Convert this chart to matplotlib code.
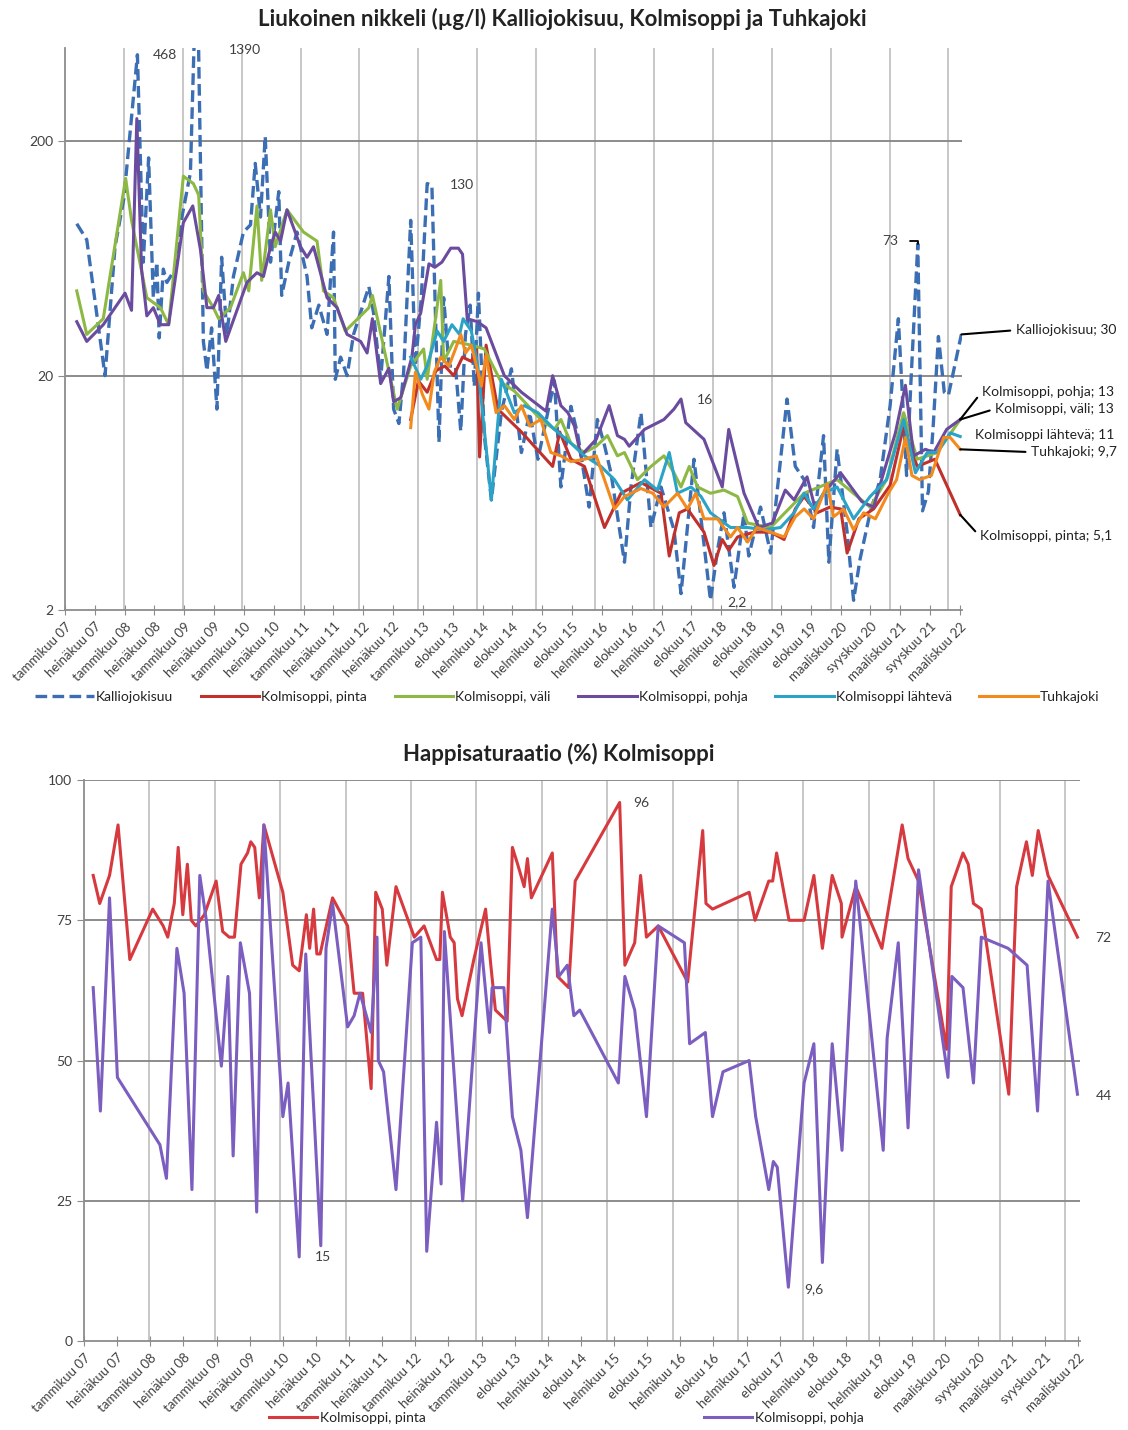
import matplotlib
matplotlib.use("Agg")
import matplotlib.pyplot as plt
import numpy as np

plt.rcParams['font.family'] = ['Lato', 'DejaVu Sans']

# x axis: labels every 185 days from 1.1.2007 (Excel date axis)
tick_labels = ['tammikuu 07', 'heinäkuu 07', 'tammikuu 08', 'heinäkuu 08', 'tammikuu 09',
               'heinäkuu 09', 'tammikuu 10', 'heinäkuu 10', 'tammikuu 11', 'heinäkuu 11',
               'tammikuu 12', 'heinäkuu 12', 'tammikuu 13', 'elokuu 13', 'helmikuu 14',
               'elokuu 14', 'helmikuu 15', 'elokuu 15', 'helmikuu 16', 'elokuu 16',
               'helmikuu 17', 'elokuu 17', 'helmikuu 18', 'elokuu 18', 'helmikuu 19',
               'elokuu 19', 'maaliskuu 20', 'syyskuu 20', 'maaliskuu 21', 'syyskuu 21',
               'maaliskuu 22']
tick_years = 2007 + 185 * np.arange(len(tick_labels)) / 365.25

# ---- nickel (ug/l), x = decimal year ----
kal_x = [2007.20, 2007.37, 2007.68, 2007.85, 2008.00, 2008.23, 2008.33, 2008.42, 2008.50, 2008.56,
         2008.60, 2008.67, 2008.73, 2008.87, 2008.96, 2009.13, 2009.24, 2009.35, 2009.41, 2009.49,
         2009.58, 2009.66, 2009.75, 2009.86, 2010.03, 2010.15, 2010.23, 2010.32, 2010.40, 2010.49,
         2010.63, 2010.68, 2010.80, 2010.94, 2011.11, 2011.19, 2011.31, 2011.45, 2011.56, 2011.59,
         2011.68, 2011.79, 2011.90, 2012.16, 2012.24, 2012.36, 2012.50, 2012.58, 2012.67, 2012.75,
         2012.87, 2012.95, 2013.05, 2013.15, 2013.23, 2013.35, 2013.43, 2013.52, 2013.63, 2013.72,
         2013.80, 2013.88, 2013.95, 2014.02, 2014.12, 2014.24, 2014.41, 2014.58, 2014.75, 2014.89,
         2015.03, 2015.31, 2015.42, 2015.59, 2015.71, 2015.90, 2016.04, 2016.16, 2016.27, 2016.50,
         2016.61, 2016.78, 2016.95, 2017.12, 2017.34, 2017.46, 2017.68, 2017.80, 2017.96, 2018.08,
         2018.19, 2018.36, 2018.53, 2018.61, 2018.81, 2018.98, 2019.26, 2019.40, 2019.55, 2019.71,
         2019.88, 2019.97, 2020.11, 2020.28, 2020.39, 2020.50, 2020.67, 2020.84, 2021.01, 2021.15,
         2021.29, 2021.36, 2021.48, 2021.56, 2021.66, 2021.74, 2021.83, 2021.93, 2022.00, 2022.22]
kal_y = [89, 76, 20, 71, 114, 468, 61, 170, 43, 61,
         29, 57, 50, 57, 88, 147, 1390, 28, 21, 32,
         14.4, 64, 30, 53, 82, 88, 161, 95, 210, 61,
         122, 44, 61, 82, 53, 32, 40, 30, 82, 19.3,
         24, 20, 30, 48, 37, 19.3, 53, 14.4, 12.5, 20.7,
         92, 22, 43, 132, 130, 10.4, 43, 22, 22, 11.6,
         30, 40, 18, 45, 11.1, 5.9, 14.0, 21.4, 9.4, 13.9,
         8.8, 19.0, 6.7, 14.8, 11.1, 5.5, 13.0, 10.1, 7.7, 3.2,
         6.7, 13.9, 4.5, 6.7, 4.4, 2.35, 8.8, 4.9, 2.2, 3.6,
         5.2, 2.5, 5.2, 3.4, 5.5, 3.5, 15.9, 8.2, 7.2, 4.5,
         11.1, 3.2, 9.7, 4.3, 2.2, 3.3, 5.2, 7.2, 14.9, 35,
         7.5, 18, 73, 5.3, 6.4, 12, 29.4, 17, 16.5, 30]

pinta_x = [2012.87, 2013.00, 2013.15, 2013.30, 2013.45, 2013.60, 2013.75, 2013.90, 2013.99, 2014.04,
           2014.15, 2014.35, 2014.75, 2015.28, 2015.40, 2015.59, 2015.82, 2016.16, 2016.44, 2016.78,
           2017.12, 2017.26, 2017.43, 2017.57, 2017.85, 2018.02, 2018.16, 2018.27, 2018.42, 2018.70,
           2018.98, 2019.21, 2019.40, 2019.55, 2019.77, 2019.99, 2020.17, 2020.28, 2020.48, 2020.73,
           2021.01, 2021.24, 2021.47, 2021.77, 2022.20]
pinta_y = [13, 19, 17, 21, 22, 20, 24, 23, 26, 9.0,
           27, 14.4, 11.5, 8.2, 11.5, 8.8, 8.2, 4.5, 6.3, 7.0,
           6.3, 3.4, 5.2, 5.4, 4.3, 3.1, 4.0, 3.6, 4.1, 4.3,
           4.3, 4.0, 5.4, 6.1, 5.2, 5.5, 5.4, 3.5, 4.9, 5.4,
           6.8, 12.2, 8.2, 8.8, 5.1]

vali_x = [2007.20, 2007.37, 2007.65, 2008.03, 2008.13, 2008.39, 2008.62, 2008.76, 2009.01, 2009.18,
          2009.27, 2009.35, 2009.52, 2009.61, 2009.81, 2010.03, 2010.12, 2010.26, 2010.34, 2010.49,
          2010.57, 2010.77, 2011.05, 2011.28, 2011.39, 2011.56, 2011.76, 2012.16, 2012.22, 2012.64,
          2012.87, 2013.09, 2013.15, 2013.38, 2013.43, 2013.60, 2013.90, 2014.12, 2014.41, 2014.63,
          2015.08, 2015.31, 2015.42, 2015.59, 2015.82, 2016.02, 2016.21, 2016.38, 2016.50, 2016.72,
          2016.95, 2017.17, 2017.34, 2017.46, 2017.60, 2017.74, 2017.96, 2018.19, 2018.42, 2018.59,
          2018.98, 2019.55, 2020.11, 2020.67, 2020.95, 2021.24, 2021.47, 2021.81, 2022.20]
vali_y = [46, 30, 35, 139, 92, 43, 39, 33, 142, 132,
          118, 46, 39, 35, 39, 55, 46, 106, 51, 102,
          71, 102, 82, 75, 46, 43, 31, 39, 44, 14.4,
          22, 26, 19.3, 51, 23, 28, 27, 26, 18.7, 17.2,
          13.0, 11.8, 13.0, 10.3, 9.4, 10.0, 11.1, 9.1, 9.4, 7.2,
          8.2, 9.1, 7.7, 6.7, 8.2, 6.7, 6.3, 6.5, 6.1, 4.7,
          4.5, 6.3, 7.2, 5.5, 7.2, 13.9, 8.8, 9.4, 13]

pohja_x = [2007.20, 2007.37, 2007.65, 2008.02, 2008.13, 2008.22, 2008.30, 2008.39, 2008.50, 2008.62,
           2008.76, 2009.01, 2009.17, 2009.30, 2009.41, 2009.52, 2009.61, 2009.73, 2009.92, 2010.09,
           2010.26, 2010.37, 2010.49, 2010.57, 2010.66, 2010.77, 2011.00, 2011.11, 2011.22, 2011.45,
           2011.62, 2011.79, 2012.02, 2012.13, 2012.22, 2012.36, 2012.50, 2012.58, 2012.70, 2012.89,
           2012.95, 2013.04, 2013.18, 2013.28, 2013.40, 2013.55, 2013.68, 2013.75, 2013.83, 2014.00,
           2014.15, 2014.46, 2014.75, 2015.17, 2015.28, 2015.42, 2015.54, 2015.65, 2015.76, 2016.02,
           2016.24, 2016.38, 2016.50, 2016.58, 2016.84, 2017.17, 2017.34, 2017.46, 2017.54, 2017.85,
           2018.16, 2018.27, 2018.53, 2018.78, 2019.01, 2019.23, 2019.38, 2019.60, 2019.74, 2019.88,
           2020.17, 2020.53, 2020.73, 2020.90, 2021.10, 2021.27, 2021.41, 2021.61, 2021.75, 2021.97,
           2022.20]
pohja_y = [34, 28, 33, 45, 38, 250, 57, 36, 39, 33,
           33, 90, 106, 69, 39, 39, 44, 28, 38, 50,
           55, 53, 71, 82, 75, 102, 71, 64, 71, 43,
           39, 30, 28, 25, 35, 18.5, 21.5, 15.5, 16.1, 24,
           33, 37, 60, 58, 61, 70, 70, 66, 35, 34,
           32, 20, 17.0, 14.1, 20, 14.9, 13.9, 12.2, 9.1, 10.7,
           14.9, 11.1, 10.7, 10.0, 11.8, 13.0, 14.4, 15.9, 12.6, 10.7,
           6.7, 11.8, 6.3, 4.5, 4.7, 6.5, 5.9, 7.4, 5.4, 6.3,
           7.7, 5.8, 5.5, 7.7, 11.4, 18.2, 9.1, 9.7, 9.4, 11.8,
           13]

lahteva_x = [2012.87, 2013.04, 2013.15, 2013.32, 2013.43, 2013.57, 2013.70, 2013.76, 2013.90, 2014.01,
             2014.24, 2014.41, 2014.63, 2014.80, 2015.03, 2015.31, 2015.59, 2015.82, 2016.10, 2016.33,
             2016.55, 2016.84, 2017.06, 2017.26, 2017.40, 2017.63, 2017.80, 2017.96, 2018.30, 2018.59,
             2018.87, 2019.15, 2019.38, 2019.55, 2019.71, 2019.88, 2020.11, 2020.39, 2020.67, 2020.95,
             2021.24, 2021.44, 2021.64, 2021.81, 2022.03, 2022.20]
lahteva_y = [24, 19.3, 22, 31, 28, 33, 30, 35, 31, 22,
             5.9, 19.3, 13.9, 14.9, 13.9, 11.8, 10.3, 9.1, 8.2, 7.2,
             5.9, 7.2, 6.5, 9.4, 6.3, 6.7, 6.1, 5.2, 4.5, 4.5,
             4.4, 4.5, 5.2, 6.3, 5.4, 6.3, 6.7, 4.9, 6.1, 7.2,
             13.0, 7.7, 9.4, 9.4, 11.4, 11]

tuhka_x = [2012.87, 2012.95, 2013.07, 2013.18, 2013.27, 2013.38, 2013.52, 2013.63, 2013.72, 2013.80,
           2013.90, 2014.07, 2014.15, 2014.32, 2014.46, 2014.63, 2014.75, 2014.89, 2015.08, 2015.25,
           2015.42, 2015.59, 2015.82, 2016.02, 2016.16, 2016.33, 2016.50, 2016.78, 2016.98, 2017.17,
           2017.40, 2017.57, 2017.71, 2017.85, 2018.08, 2018.30, 2018.42, 2018.59, 2018.75, 2018.98,
           2019.21, 2019.40, 2019.55, 2019.71, 2019.94, 2020.05, 2020.22, 2020.39, 2020.56, 2020.76,
           2020.98, 2021.12, 2021.27, 2021.38, 2021.51, 2021.71, 2021.92, 2022.03, 2022.20]
tuhka_y = [12.0, 20.7, 16.6, 14.4, 20.7, 24, 22, 26, 30, 25,
           27, 18.1, 24.4, 13.9, 14.9, 13.0, 14.9, 12.2, 13.0, 9.4,
           9.1, 8.6, 8.8, 9.1, 7.2, 5.4, 6.1, 6.6, 6.3, 5.5,
           6.3, 5.4, 6.3, 4.9, 4.9, 4.1, 4.5, 3.9, 4.5, 4.3,
           4.1, 5.0, 5.4, 4.9, 6.9, 5.0, 5.4, 4.4, 5.2, 4.9,
           6.3, 7.2, 10.9, 7.5, 7.2, 7.5, 10.9, 10.9, 9.7]

# ---- oxygen saturation (%) ----
o2_pinta_x = [2007.14, 2007.24, 2007.39, 2007.52, 2007.70, 2008.05, 2008.21, 2008.28, 2008.38, 2008.44,
              2008.51, 2008.58, 2008.64, 2008.71, 2008.84, 2009.02, 2009.12, 2009.22, 2009.30, 2009.40,
              2009.50, 2009.55, 2009.61, 2009.68, 2009.75, 2010.04, 2010.19, 2010.29, 2010.40, 2010.45,
              2010.51, 2010.56, 2010.61, 2010.80, 2011.03, 2011.13, 2011.26, 2011.39, 2011.46, 2011.56,
              2011.63, 2011.77, 2012.05, 2012.20, 2012.39, 2012.44, 2012.48, 2012.60, 2012.66, 2012.71,
              2012.78, 2012.96, 2013.14, 2013.22, 2013.29, 2013.47, 2013.55, 2013.63, 2013.73, 2013.78,
              2013.84, 2014.16, 2014.24, 2014.41, 2014.51, 2015.19, 2015.27, 2015.42, 2015.51, 2015.60,
              2015.78, 2016.23, 2016.46, 2016.51, 2016.61, 2017.17, 2017.26, 2017.47, 2017.53, 2017.59,
              2017.78, 2018.01, 2018.16, 2018.29, 2018.44, 2018.58, 2018.59, 2018.80, 2019.20, 2019.51,
              2019.60, 2019.76, 2020.19, 2020.26, 2020.44, 2020.52, 2020.60, 2020.72, 2021.14, 2021.26,
              2021.41, 2021.50, 2021.59, 2021.74, 2022.19]
o2_pinta_y = [83, 78, 83, 92, 68, 77, 74, 72, 78, 88,
              76, 85, 75, 74, 76, 82, 73, 72, 72, 85,
              87, 89, 88, 79, 92, 80, 67, 66, 76, 70,
              77, 69, 69, 79, 74, 62, 62, 45, 80, 77,
              67, 81, 72, 74, 68, 68, 80, 72, 71, 61,
              58, 68, 77, 67, 59, 57, 88, 85, 81, 86,
              79, 87, 65, 63, 82, 96, 67, 71, 83, 72,
              74, 64, 91, 78, 77, 80, 75, 82, 82, 87,
              75, 75, 83, 70, 83, 78, 72, 81, 70, 92,
              86, 82, 52, 81, 87, 85, 78, 77, 44, 81,
              89, 83, 91, 83, 72]
o2_pohja_x = [2007.14, 2007.25, 2007.39, 2007.51, 2008.16, 2008.26, 2008.42, 2008.53, 2008.65, 2008.77,
              2008.87, 2009.10, 2009.20, 2009.28, 2009.39, 2009.53, 2009.64, 2009.75, 2010.04, 2010.12,
              2010.29, 2010.39, 2010.62, 2010.70, 2010.80, 2011.03, 2011.13, 2011.22, 2011.39, 2011.48,
              2011.50, 2011.58, 2011.77, 2012.02, 2012.15, 2012.24, 2012.39, 2012.46, 2012.51, 2012.79,
              2013.07, 2013.20, 2013.24, 2013.42, 2013.55, 2013.68, 2013.78, 2014.16, 2014.26, 2014.39,
              2014.49, 2014.58, 2015.17, 2015.27, 2015.42, 2015.60, 2015.78, 2016.18, 2016.26, 2016.50,
              2016.61, 2016.77, 2017.17, 2017.27, 2017.47, 2017.54, 2017.60, 2017.77, 2018.01, 2018.16,
              2018.29, 2018.44, 2018.59, 2018.80, 2019.22, 2019.28, 2019.45, 2019.60, 2019.76, 2020.21,
              2020.27, 2020.44, 2020.60, 2020.72, 2021.13, 2021.42, 2021.58, 2021.74, 2022.19]
o2_pohja_y = [63, 41, 79, 47, 35, 29, 70, 62, 27, 83,
              75, 49, 65, 33, 71, 62, 23, 92, 40, 46,
              15, 69, 17, 70, 78, 56, 58, 62, 55, 72,
              50, 48, 27, 71, 72, 16, 39, 28, 73, 25,
              71, 55, 63, 63, 40, 34, 22, 77, 65, 67,
              58, 59, 46, 65, 59, 40, 74, 71, 53, 55,
              40, 48, 50, 40, 27, 32, 31, 9.6, 46, 53,
              14, 53, 34, 82, 34, 54, 71, 38, 84, 47,
              65, 63, 46, 72, 70, 67, 41, 82, 44]

c_kal = '#3C6EB4'
c_pinta = '#C0302C'
c_vali = '#8DB843'
c_pohja = '#6A4B9E'
c_lahteva = '#2AA3C6'
c_tuhka = '#F28A1E'
c_o2_pinta = '#D63A3F'
c_o2_pohja = '#7B5EBF'
txt = '#404040'

fig = plt.figure(figsize=(11.28, 14.3), dpi=100)
ax1 = fig.add_axes([0.0576, 0.5734, 0.7952, 0.3930])
ax2 = fig.add_axes([0.0745, 0.0622, 0.8830, 0.3923])

x_end = 2022.23


def style_time_axis(ax):
    ax.set_xlim(2007, x_end)
    ax.set_xticks(tick_years)
    ax.set_xticklabels(tick_labels, rotation=45, ha='right', va='top',
                       rotation_mode='anchor', fontsize=9.5, color=txt)
    ax.tick_params(axis='x', direction='inout', length=7, color='#8c8c8c', pad=4)
    ax.tick_params(axis='y', direction='out', length=5, color='#8c8c8c',
                   labelsize=10, labelcolor=txt)
    for yr in range(2008, 2023):
        ax.axvline(yr, color='#bdbdbd', lw=1.2, zorder=0)
    for s in ['top', 'right']:
        ax.spines[s].set_visible(False)
    for s in ['left', 'bottom']:
        ax.spines[s].set_color('#8c8c8c')
        ax.spines[s].set_linewidth(1.3)


# ---------------- top chart ----------------
style_time_axis(ax1)
ax1.set_yscale('log')
ax1.set_ylim(2, 500)
ax1.set_yticks([2, 20, 200])
ax1.set_yticklabels(['2', '20', '200'])
ax1.yaxis.set_minor_locator(matplotlib.ticker.NullLocator())
for v in [20, 200]:
    ax1.axhline(v, color='#8c8c8c', lw=1.4, zorder=0)

ax1.plot(kal_x, kal_y, color=c_kal, lw=2.4, dashes=(3.5, 1.6), label='Kalliojokisuu')
ax1.plot(pinta_x, pinta_y, color=c_pinta, lw=2.2, label='Kolmisoppi, pinta')
ax1.plot(vali_x, vali_y, color=c_vali, lw=2.2, label='Kolmisoppi, väli')
ax1.plot(pohja_x, pohja_y, color=c_pohja, lw=2.2, label='Kolmisoppi, pohja')
ax1.plot(lahteva_x, lahteva_y, color=c_lahteva, lw=2.2, label='Kolmisoppi lähtevä')
ax1.plot(tuhka_x, tuhka_y, color=c_tuhka, lw=2.2, label='Tuhkajoki')

ax1.set_title('Liukoinen nikkeli (µg/l) Kalliojokisuu, Kolmisoppi ja Tuhkajoki',
              fontsize=16, fontweight='bold', color='#222222', pad=16, x=0.554)

for s, xx, yy in [('468', 2008.70, 467), ('1390', 2010.06, 490), ('130', 2013.74, 130),
                  ('16', 2017.87, 15.8), ('2,2', 2018.41, 2.16)]:
    ax1.text(xx, yy, s, ha='center', va='center', fontsize=10, color=txt, clip_on=False)
ax1.annotate('73', xy=(kal_x[112], kal_y[112]), xytext=(2021.02, 74.8),
             ha='center', va='center', fontsize=10, color=txt,
             arrowprops=dict(arrowstyle='-', color='black', lw=1.3,
                             connectionstyle='angle,angleA=0,angleB=90', shrinkA=6, shrinkB=0))

end_labels = [
    ('Kalliojokisuu; 30', kal_x[-1], kal_y[-1], 1.060, 0.498, True),
    ('Kolmisoppi, pohja; 13', pohja_x[-1], pohja_y[-1], 1.022, 0.388, True),
    ('Kolmisoppi, väli; 13', vali_x[-1], vali_y[-1], 1.037, 0.358, True),
    ('Kolmisoppi lähtevä; 11', lahteva_x[-1], lahteva_y[-1], 1.015, 0.311, False),
    ('Tuhkajoki; 9,7', tuhka_x[-1], tuhka_y[-1], 1.077, 0.281, True),
    ('Kolmisoppi, pinta; 5,1', pinta_x[-1], pinta_y[-1], 1.020, 0.131, True),
]
for s, xx, yy, tx, ty, lead in end_labels:
    if lead:
        ax1.annotate(s, xy=(xx, yy), xytext=(tx, ty), textcoords='axes fraction',
                     ha='left', va='center', fontsize=10, color='#222222',
                     annotation_clip=False,
                     arrowprops=dict(arrowstyle='-', color='black', lw=1.5,
                                     shrinkA=2, shrinkB=0, relpos=(0, 0.5)))
    else:
        ax1.text(tx, ty, s, transform=ax1.transAxes, ha='left', va='center',
                 fontsize=10, color='#222222')

fig.legend(*ax1.get_legend_handles_labels(), loc='center', bbox_to_anchor=(0.503, 0.5126),
           ncol=6, frameon=False, fontsize=10, handlelength=4.2, columnspacing=2.0,
           handletextpad=0.15, labelcolor='#222222')

# ---------------- bottom chart ----------------
style_time_axis(ax2)
ax2.set_ylim(0, 100)
ax2.set_yticks([0, 25, 50, 75, 100])
for v in [25, 50, 75, 100]:
    ax2.axhline(v, color='#8c8c8c', lw=1.4, zorder=0)

ax2.plot(o2_pinta_x, o2_pinta_y, color=c_o2_pinta, lw=2.2, label='Kolmisoppi, pinta')
ax2.plot(o2_pohja_x, o2_pohja_y, color=c_o2_pohja, lw=2.2, label='Kolmisoppi, pohja')

ax2.set_title('Happisaturaatio (%) Kolmisoppi', fontsize=16, fontweight='bold',
              color='#222222', pad=14, x=0.477)

for s, xx, yy in [('96', 2015.52, 95.9), ('72', 2022.59, 71.8), ('44', 2022.59, 43.7),
                  ('15', 2010.65, 15.0), ('9,6', 2018.16, 9.3)]:
    ax2.text(xx, yy, s, ha='center', va='center', fontsize=10, color=txt, clip_on=False)

fig.legend(*ax2.get_legend_handles_labels(), loc='center', bbox_to_anchor=(0.502, 0.0085),
           ncol=2, frameon=False, fontsize=10, handlelength=3.5, columnspacing=20,
           handletextpad=0.2, labelcolor='#222222')

fig.savefig('out.png', dpi=100, facecolor='white')
